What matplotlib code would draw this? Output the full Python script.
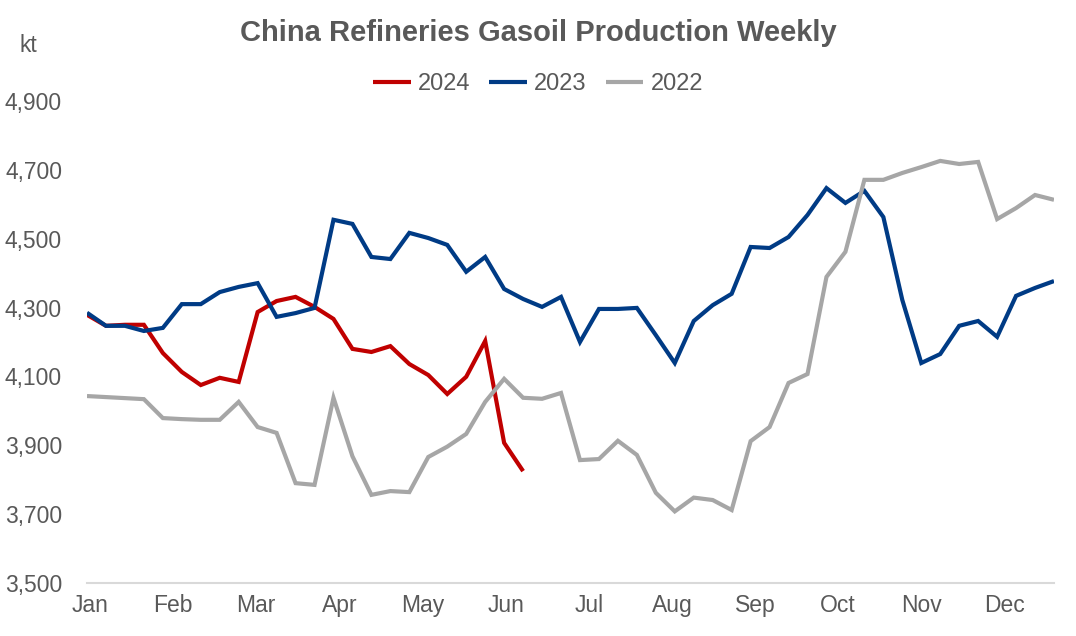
"""China refineries gasoil production, weekly, 2022-2024."""
import matplotlib

matplotlib.use("Agg")
import matplotlib.pyplot as plt
from matplotlib.ticker import FuncFormatter

# Weekly production, kt
prod_2024 = [4279, 4247, 4250, 4250, 4168, 4113, 4075, 4096, 4084, 4287,
             4319, 4331, 4302, 4267, 4180, 4171, 4188, 4136, 4104, 4049,
             4099, 4203, 3907, 3825]
prod_2023 = [4285, 4247, 4247, 4232, 4241, 4310, 4310, 4345, 4360, 4371,
             4273, 4284, 4299, 4555, 4543, 4447, 4441, 4517, 4502, 4482,
             4404, 4447, 4354, 4325, 4302, 4331, 4200, 4296, 4296, 4299,
             4220, 4139, 4261, 4307, 4340, 4476, 4473, 4505, 4569, 4647,
             4604, 4639, 4563, 4322, 4139, 4165, 4247, 4261, 4215, 4334,
             4357, 4377]
prod_2022 = [4043, 4040, 4037, 4034, 3979, 3976, 3974, 3974, 4026, 3953,
             3936, 3790, 3785, 4038, 3868, 3756, 3767, 3764, 3866, 3896,
             3933, 4026, 4093, 4038, 4035, 4052, 3857, 3860, 3913, 3872,
             3762, 3708, 3748, 3741, 3712, 3912, 3953, 4081, 4107, 4389,
             4462, 4671, 4671, 4691, 4708, 4726, 4717, 4723, 4557, 4589,
             4627, 4613]
months = ["Jan", "Feb", "Mar", "Apr", "May", "Jun",
          "Jul", "Aug", "Sep", "Oct", "Nov", "Dec"]

TXT = "#595959"
plt.rcParams["font.family"] = ["Liberation Sans", "DejaVu Sans"]


def main():
    fig = plt.figure(figsize=(10.76, 6.36), dpi=100)
    ax = fig.add_axes([87 / 1076, 1 - 583 / 636, 967 / 1076, 482 / 636])

    series = [("2024", prod_2024, "#C00000"),
              ("2023", prod_2023, "#003B85"),
              ("2022", prod_2022, "#A6A6A6")]
    for label, vals, col in series:
        ax.plot(range(len(vals)), vals, color=col, lw=3.0, label=label,
                solid_joinstyle="miter", solid_capstyle="butt")

    ax.set_xlim(0, 51)
    ax.set_ylim(3500, 4900)
    ax.set_yticks(range(3500, 4901, 200))
    ax.yaxis.set_major_formatter(FuncFormatter(lambda v, p: f"{v:,.0f}"))
    ax.set_xticks([0.15 + 4.385 * i for i in range(len(months))])
    ax.set_xticklabels(months)
    ax.tick_params(axis="both", length=0, labelsize=16.5, colors=TXT)
    ax.tick_params(axis="y", pad=18)
    ax.tick_params(axis="x", pad=8)

    for side in ("top", "right", "left"):
        ax.spines[side].set_visible(False)
    ax.spines["bottom"].set_color("#D9D9D9")
    ax.spines["bottom"].set_linewidth(1.5)

    fig.text(0.5, 1 - 33 / 636, "China Refineries Gasoil Production Weekly",
             ha="center", va="center", fontsize=21, fontweight="bold", color=TXT)
    fig.text(28 / 1076, 1 - 46 / 636, "kt", ha="center", va="center",
             fontsize=16.5, color=TXT)

    leg = fig.legend(loc="center", bbox_to_anchor=(0.5, 1 - 84 / 636), ncol=3,
                     frameon=False, fontsize=17, handlelength=1.6,
                     handletextpad=0.3, columnspacing=0.8)
    for t in leg.get_texts():
        t.set_color(TXT)

    fig.savefig("out.png", dpi=100)


if __name__ == "__main__":
    main()
